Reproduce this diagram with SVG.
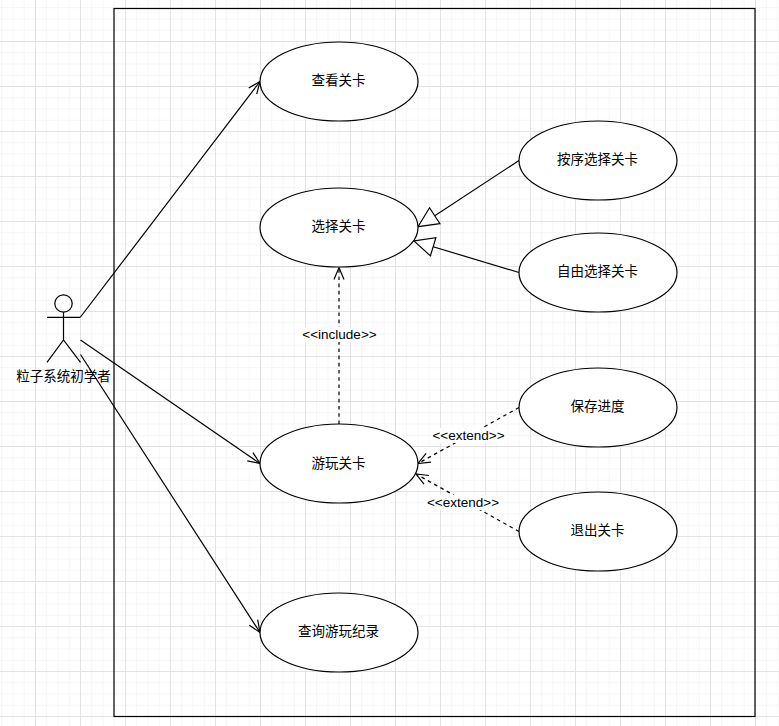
<svg xmlns="http://www.w3.org/2000/svg" width="779" height="726" viewBox="0 0 779 726">
<style>
text{font-family:"Liberation Sans","Noto Sans CJK SC",sans-serif;font-size:13.5px;fill:#000;text-anchor:middle}
.uc{fill:#fff;stroke:#000;stroke-width:1.2}
.ln{fill:none;stroke:#000;stroke-width:1.2}
.dash{stroke-dasharray:3.6 3.6}
.lbl{fill:#fff}
</style>
<defs>
<pattern id="minor" width="11.25" height="11.25" patternUnits="userSpaceOnUse" x="1.25" y="7.25"><path d="M.5 0V11.25M0 .5H11.25" fill="none" stroke="#f5f5f5" stroke-width="1"/></pattern>
<pattern id="major" width="45" height="45" patternUnits="userSpaceOnUse" x="35" y="41"><path d="M.5 0V45M0 .5H45" fill="none" stroke="#e3e3e3" stroke-width="1"/></pattern>
<marker id="open" markerUnits="userSpaceOnUse" markerWidth="30" markerHeight="30" refX="15" refY="15" orient="auto" overflow="visible"><path d="M3 10L15 15L3 20" fill="none" stroke="#000" stroke-width="1.2"/></marker>
<marker id="tri" markerUnits="userSpaceOnUse" markerWidth="40" markerHeight="40" refX="20" refY="20" orient="auto" overflow="visible"><path d="M0 10.5L20 20L0 29.5Z" fill="#fff" stroke="#000" stroke-width="1.2"/></marker>
</defs>
<rect width="779" height="726" fill="#fff"/>
<rect width="779" height="726" fill="url(#minor)"/>
<rect width="779" height="726" fill="url(#major)"/>
<rect id="boundary" x="114" y="8.5" width="641" height="708" fill="none" stroke="#000" stroke-width="1.2"/>
<g id="connectors">
<path class="ln" d="M80.5 317L260 81.5" marker-end="url(#open)"/>
<path class="ln" d="M80.5 340L260 463.5" marker-end="url(#open)"/>
<path class="ln" d="M80.5 354.5L260 632.5" marker-end="url(#open)"/>
<path class="ln" d="M519 160.5L418 226.7" marker-end="url(#tri)"/>
<path class="ln" d="M519 272.5L414 241" marker-end="url(#tri)"/>
<path class="ln dash" d="M339 424L339 267.5" marker-end="url(#open)"/>
<path class="ln dash" d="M519 407.5L418 463.5" marker-end="url(#open)"/>
<path class="ln dash" d="M519 531.5L416 474" marker-end="url(#open)"/>
<rect class="lbl" x="302" y="327" width="75" height="15"/>
<text x="339.5" y="339">&lt;&lt;include&gt;&gt;</text>
<rect class="lbl" x="433" y="428" width="72" height="15"/>
<text x="468.5" y="440">&lt;&lt;extend&gt;&gt;</text>
<rect class="lbl" x="427" y="495" width="72" height="15"/>
<text x="463" y="507">&lt;&lt;extend&gt;&gt;</text>
</g>
<g id="actor">
<circle class="ln" cx="63.5" cy="303.5" r="8.7"/>
<path class="ln" d="M63.5 312.2V340M47 317.3H80.5M47 362.3L63.5 340L80.5 362.3"/>
<text x="63.5" y="381">粒子系统初学者</text>
</g>
<g id="uc-view"><ellipse class="uc" cx="339" cy="81.5" rx="79" ry="39.5"/><text x="338.5" y="85">查看关卡</text></g>
<g id="uc-select"><ellipse class="uc" cx="339" cy="227.5" rx="79" ry="39.5"/><text x="338.5" y="231">选择关卡</text></g>
<g id="uc-play"><ellipse class="uc" cx="339" cy="463.5" rx="79" ry="39.5"/><text x="338.5" y="468">游玩关卡</text></g>
<g id="uc-record"><ellipse class="uc" cx="339" cy="632.5" rx="79" ry="39.5"/><text x="338.5" y="636">查询游玩纪录</text></g>
<g id="uc-order"><ellipse class="uc" cx="598" cy="160.5" rx="79" ry="39.5"/><text x="597.5" y="164">按序选择关卡</text></g>
<g id="uc-free"><ellipse class="uc" cx="598" cy="272.5" rx="79" ry="39.5"/><text x="597.5" y="276">自由选择关卡</text></g>
<g id="uc-save"><ellipse class="uc" cx="598" cy="407.5" rx="79" ry="39.5"/><text x="597.5" y="411">保存进度</text></g>
<g id="uc-quit"><ellipse class="uc" cx="598" cy="531.5" rx="79" ry="39.5"/><text x="597.5" y="535">退出关卡</text></g>
</svg>
